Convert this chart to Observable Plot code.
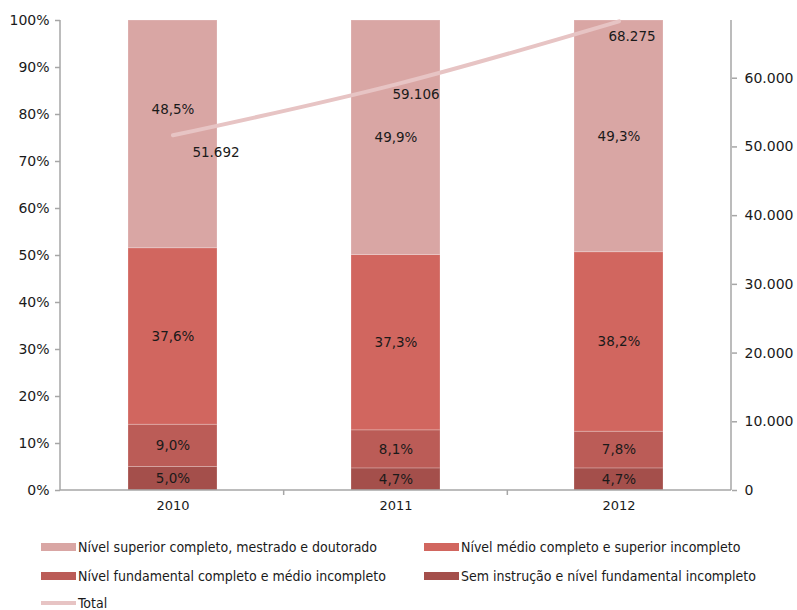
<!DOCTYPE html>
<html><head><meta charset="utf-8">
<script src="https://cdn.jsdelivr.net/npm/d3@7"></script>
<script src="https://cdn.jsdelivr.net/npm/@observablehq/plot@0.6"></script>
<style>
body{margin:0;background:#fff;font-family:"DejaVu Sans",sans-serif;}
#chart{width:797px;height:530px;}
#legend{position:relative;width:797px;height:80px;font-family:"Liberation Sans Narrow","DejaVu Sans Condensed",sans-serif;font-size:14px;color:#1a1a1a;}
.item{position:absolute;display:flex;align-items:center;white-space:nowrap;}
.sw{width:35px;height:8px;margin-right:2px;}
</style></head>
<body>
<div id="chart"></div>
<div id="legend"></div>
<script>
const years = ["2010", "2011", "2012"];
const categories = [
  "Sem instrução e nível fundamental incompleto",
  "Nível fundamental completo e médio incompleto",
  "Nível médio completo e superior incompleto",
  "Nível superior completo, mestrado e doutorado"
];
const semInstrucao = [5.0, 4.7, 4.7];
const fundamental = [9.0, 8.1, 7.8];
const medio = [37.6, 37.3, 38.2];
const superior = [48.5, 49.9, 49.3];
const totals = [51692, 59106, 68275];
const colors = ["#a44f4b", "#bb5c57", "#d1665f", "#d9a6a4"];
const lineColor = "#e7c4c4";
const leftTicks = [0, 0.1, 0.2, 0.3, 0.4, 0.5, 0.6, 0.7, 0.8, 0.9, 1];
const rightTicks = [0, 10000, 20000, 30000, 40000, 50000, 60000];
const RIGHT_MAX = 68400;

const series = [semInstrucao, fundamental, medio, superior];
const rows = [];
years.forEach((y, i) => categories.forEach((c, k) => rows.push({year: y, cat: c, value: series[k][i]})));
const totalRows = years.map((y, i) => ({year: y, total: totals[i], scaled: totals[i] / RIGHT_MAX}));

const pct = v => v.toFixed(1).replace(".", ",") + "%";
const thou = v => d3.format(",")(v).replace(/,/g, ".");
const gray = "#a6a6a6";

const axisLines = (index, scales, values, dimensions) => {
  const {width, height, marginLeft, marginRight, marginTop, marginBottom} = dimensions;
  const g = d3.create("svg:g").attr("stroke", gray).attr("stroke-width", 1.5);
  g.append("line").attr("x1", marginLeft).attr("x2", marginLeft).attr("y1", marginTop).attr("y2", height - marginBottom);
  g.append("line").attr("x1", width - marginRight).attr("x2", width - marginRight).attr("y1", marginTop).attr("y2", height - marginBottom);
  g.append("line").attr("x1", marginLeft).attr("x2", width - marginRight).attr("y1", height - marginBottom).attr("y2", height - marginBottom);
  for (let i = 1; i < years.length; i++) {
    const x = marginLeft + i * (width - marginLeft - marginRight) / years.length;
    g.append("line").attr("x1", x).attr("x2", x).attr("y1", height - marginBottom).attr("y2", height - marginBottom + 5);
  }
  return g.node();
};

const isTop2010 = d => d.year === "2010" && d.cat === categories[3];
const stackOpts = {x: "year", y: "value", z: "cat", order: categories, offset: "normalize"};
const offsets = {"2010": [43, 17], "2011": [20, 10], "2012": [13, 15]};

const chart = Plot.plot({
  width: 797, height: 530,
  marginLeft: 60, marginRight: 66, marginTop: 20, marginBottom: 40,
  style: {fontFamily: "DejaVu Sans, sans-serif", background: "#fff", color: "#1a1a1a"},
  x: {type: "band", domain: years, paddingInner: 0.6, paddingOuter: 0.3, label: null},
  y: {domain: [0, 1], label: null},
  color: {domain: categories, range: colors},
  marks: [
    Plot.barY(rows, Plot.stackY({...stackOpts, fill: "cat", stroke: "#ffffff", strokeOpacity: 0.22, strokeWidth: 1})),
    Plot.text(rows, Plot.stackY({...stackOpts, text: d => isTop2010(d) ? "" : pct(d.value), fontSize: 13.5, fill: "#1a1a1a"})),
    Plot.text(rows, Plot.stackY({...stackOpts, text: d => isTop2010(d) ? pct(d.value) : "", dy: -25, fontSize: 13.5, fill: "#1a1a1a"})),
    Plot.line(totalRows, {x: "year", y: "scaled", stroke: lineColor, strokeWidth: 4, curve: "catmull-rom"}),
    ...years.map(yr => Plot.text(totalRows.filter(d => d.year === yr), {x: "year", y: "scaled", text: d => thou(d.total), dx: offsets[yr][0], dy: offsets[yr][1], fontSize: 13.5, fill: "#1a1a1a"})),
    axisLines,
    Plot.axisX({tickSize: 0, tickPadding: 10, fontSize: 13, label: null}),
    Plot.axisY(leftTicks, {anchor: "left", tickSize: 5, stroke: gray, strokeWidth: 1.5, tickPadding: 6, fontSize: 14, tickFormat: d3.format(".0%"), label: null}),
    Plot.axisY(rightTicks.map(v => v / RIGHT_MAX), {anchor: "right", tickSize: 5, stroke: gray, strokeWidth: 1.5, tickPadding: 8, fontSize: 14, tickFormat: d => thou(Math.round(d * RIGHT_MAX)), label: null})
  ]
});
document.getElementById("chart").appendChild(chart);

const legend = document.getElementById("legend");
const legendItems = [
  {label: categories[3], color: colors[3], x: 41, y: 18, line: false},
  {label: categories[2], color: colors[2], x: 424, y: 18, line: false},
  {label: categories[1], color: colors[1], x: 41, y: 47, line: false},
  {label: categories[0], color: colors[0], x: 424, y: 47, line: false},
  {label: "Total", color: lineColor, x: 41, y: 74, line: true}
];
legendItems.forEach(it => {
  const div = document.createElement("div");
  div.className = "item";
  div.style.left = it.x + "px";
  div.style.top = (it.y - 9) + "px";
  const sw = document.createElement("div");
  sw.className = "sw";
  sw.style.background = it.color;
  if (it.line) sw.style.height = "4px";
  const t = document.createElement("span");
  t.textContent = it.label;
  div.appendChild(sw); div.appendChild(t);
  legend.appendChild(div);
});
</script>
</body></html>
